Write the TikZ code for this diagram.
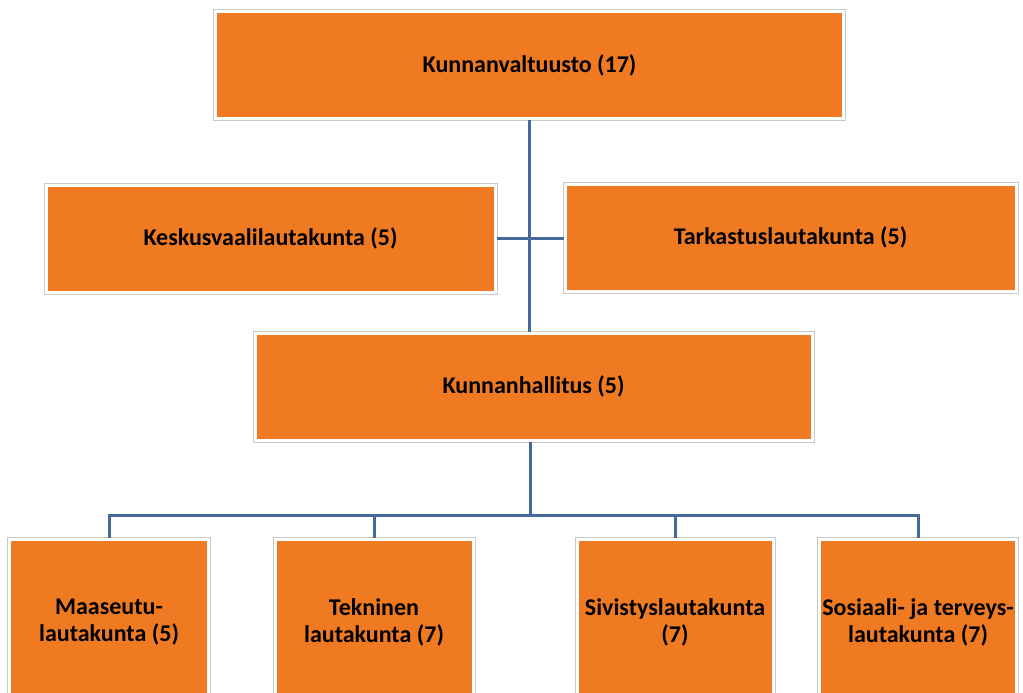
\documentclass[tikz,border=0pt]{standalone}
\usepackage{fontspec}
\setmainfont{Carlito}
\usepackage{xcolor}
\definecolor{arancio}{HTML}{F07A21}
\definecolor{linjasini}{HTML}{46699C}
\definecolor{reunaharmaa}{HTML}{C8C8C8}
\tikzset{
  elin/.style = {rectangle, fill = arancio, draw = white, line width = 3pt,
    preaction = {draw = reunaharmaa, line width = 5pt},
    font = \bfseries\fontsize{24}{27}\selectfont, align = center, inner sep = 0pt},
  yhteys/.style = {draw = linjasini, line width = 3pt}
}

\begin{document}
\begin{tikzpicture}[x = 1pt, y = -1pt]
    \useasboundingbox (0,0) rectangle (1023,693);

    % Valtuusto ja lautakunnat
    \node[elin, minimum width = 628pt, minimum height = 107pt] (valtuusto) at (529.5,65) {Kunnanvaltuusto (17)};
    \node[elin, minimum width = 449pt, minimum height = 107pt] (keskus) at (270.5,238.5) {Keskusvaalilautakunta (5)};
    \node[elin, minimum width = 451pt, minimum height = 107pt] (tarkastus) at (790.5,237.5) {Tarkastuslautakunta (5)};
    \node[elin, minimum width = 557pt, minimum height = 107pt] (hallitus) at (533.5,386.5) {Kunnanhallitus (5)};

    % Alimmat lautakunnat
    \node[elin, minimum width = 199pt, minimum height = 166pt] (maaseutu) at (109,622.5) {Maaseutu-\\lautakunta (5)};
    \node[elin, minimum width = 198pt, minimum height = 166pt] (tekninen) at (374,622.5) {Tekninen\\lautakunta (7)};
    \node[elin, minimum width = 196pt, minimum height = 166pt] (sivistys) at (675,622.5) {Sivistyslautakunta\\(7)};
    \node[elin, minimum width = 197pt, minimum height = 166pt] (sosiaali) at (918,622.5) {Sosiaali- ja terveys-\\lautakunta (7)};

    % Yhteydet
    \draw[yhteys] (valtuusto.south) -- (valtuusto.south |- hallitus.north);
    \draw[yhteys] (keskus.east) -- (keskus.east -| tarkastus.west);
    \coordinate (haara) at (530,515);
    \draw[yhteys] (haara |- hallitus.south) -- (haara);
    \foreach \lauta in {maaseutu, tekninen, sivistys, sosiaali}
        \draw[yhteys] (haara) -| (\lauta.north);
\end{tikzpicture}
\end{document}
